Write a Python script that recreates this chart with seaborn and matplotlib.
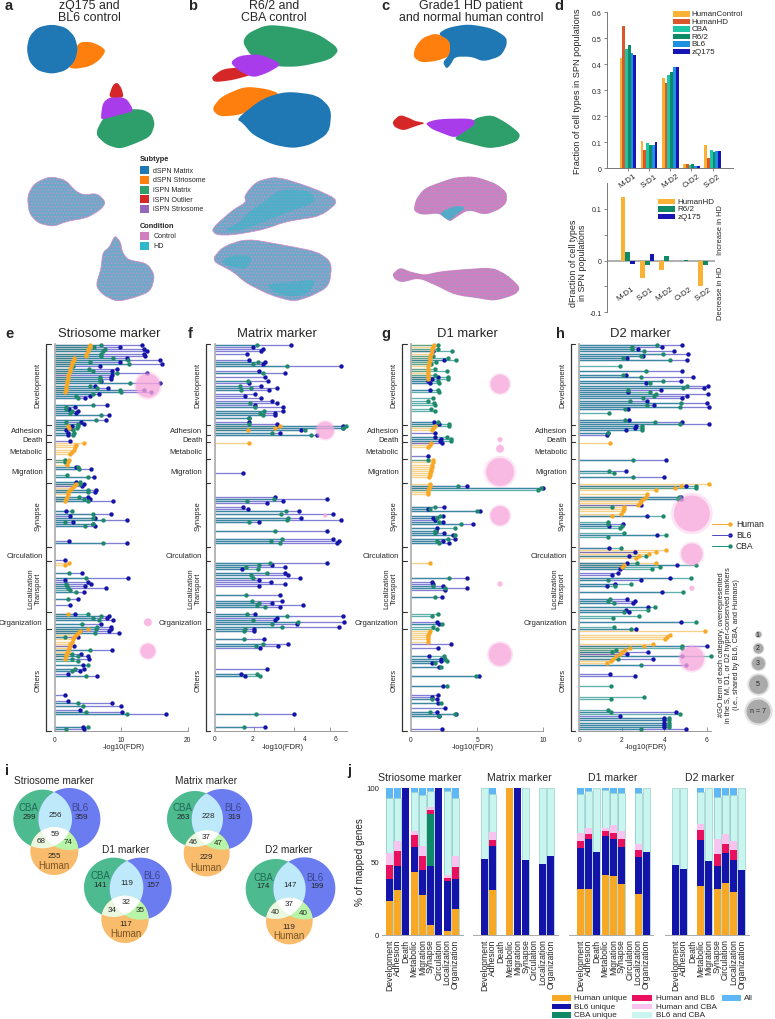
import numpy as np
import pandas as pd
import matplotlib
matplotlib.use('Agg')
import matplotlib.pyplot as plt
from matplotlib.patches import Polygon, Rectangle
import seaborn as sns

sns.set_theme(style='white')
plt.rcParams['font.family'] = ['Liberation Sans', 'DejaVu Sans']
plt.rcParams['hatch.linewidth'] = 0.5

W, H = 775, 1020

# ---------- UMAP outlines, panels a and b
a_orange = [(205,205),(215,180),(235,130),(270,128),(300,140),(318,155),(300,182),(270,202),(225,210)]
a_blue = [(80,150),(88,112),(113,85),(155,76),(197,85),(224,112),(234,150),(224,188),(197,215),(155,225),(113,215),(88,188)]
a_green = [(285,405),(310,355),(350,332),(425,330),(455,345),(465,375),(452,412),(410,432),(360,450),(318,437)]
a_purple = [(302,358),(308,312),(328,295),(378,295),(403,337),(360,347),(310,361)]
a_red = [(325,297),(338,258),(352,250),(365,268),(372,297)]
a_hd_top = [(82,590),(103,553),(150,532),(197,543),(225,575),(250,588),(292,583),(318,610),(302,632),(260,657),(200,667),(160,683),(113,672),(87,642)]
a_hd_bottom = [(287,860),(303,810),(308,760),(328,745),(345,708),(362,730),(367,760),(385,783),(442,793),(465,830),(452,877),(400,897),(350,908),(308,887)]
b_green = [(727,130),(743,103),(800,77),(870,83),(952,103),(1020,150),(992,182),(900,203),(830,203),(758,177)]
b_red = [(634,235),(668,210),(720,205),(763,225),(700,243),(643,250)]
b_purple = [(690,190),(718,170),(780,165),(848,195),(802,222),(760,236),(718,217)]
b_orange = [(635,330),(663,293),(735,262),(802,270),(842,285),(792,317),(720,348),(658,353)]
b_blue = [(709,360),(788,298),(860,277),(952,288),(995,330),(988,402),(932,437),(880,448),(818,437),(758,407),(728,372)]
b_hd_top = [(634,690),(698,633),(738,610),(733,590),(768,548),(830,532),(942,568),(1020,605),(962,652),(860,667),(790,692),(700,708),(648,708)]
b_hd_bottom = [(634,785),(668,743),(740,719),(850,738),(952,758),(996,790),(988,862),(932,892),(880,908),(808,887),(738,852),(698,817)]
b_teal_1 = [(670,695),(720,670),(745,640),(790,610),(840,570),(930,575),(950,610),(860,640),(790,670),(720,695)]
b_teal_2 = [(660,790),(690,770),(760,770),(740,810),(700,805)]
b_teal_3 = [(800,855),(870,850),(950,840),(930,880),(880,895),(820,880)]
# panel c
c_orange = [(115,175),(120,145),(143,116),(185,102),(228,125),(238,165),(190,185),(140,191)]
c_blue = [(188,105),(218,86),(280,75),(352,88),(395,115),(395,140),(377,172),(325,188),(290,173),(240,173),(228,195),(215,210),(203,190),(225,165),(225,125)]
c_red = [(52,368),(75,347),(105,358),(120,366),(153,372),(120,382),(85,395),(58,384)]
c_purple = [(150,372),(190,360),(292,358),(302,375),(270,397),(240,417),(200,402),(170,390)]
c_green = [(233,420),(270,395),(298,358),(350,347),(397,373),(437,405),(427,427),(380,443),(340,448),(290,435)]
c_hd_top = [(115,635),(123,600),(148,568),(195,550),(240,535),(300,532),(362,553),(396,580),(395,612),(372,632),(330,648),(280,632),(240,657),(225,668),(203,652),(190,643),(140,648)]
c_teal = [(195,640),(240,620),(275,625),(240,650),(225,665),(205,655)]
c_hd_bottom = [(52,825),(75,805),(105,818),(150,828),(190,818),(250,812),(352,805),(397,828),(437,865),(422,887),(360,906),(310,898),(240,888),(178,857),(130,837),(80,851),(58,840)]

subtype_labels = ['dSPN Matrix', 'dSPN Striosome', 'iSPN Matrix', 'iSPN Outlier', 'iSPN Striosome']
subtype_colors = ['#1F77B4', '#FF7F0E', '#2E9F6B', '#D62728', '#9467BD']
condition_labels = ['Control', 'HD']
condition_colors = ['#D27FC0', '#2FB8CC']

# ---------- panel d
cell_types = ['M-D1', 'S-D1', 'M-D2', 'O-D2', 'S-D2']
frac_groups = ['HumanControl', 'HumanHD', 'CBA', 'R6/2', 'BL6', 'zQ175']
frac_colors = ['#F9B233', '#D9572B', '#1FC6A6', '#0E8A66', '#1E90E0', '#1616B4']
frac_human_control = [0.425, 0.105, 0.345, 0.015, 0.088]
frac_human_hd = [0.548, 0.070, 0.327, 0.015, 0.038]
frac_cba = [0.457, 0.097, 0.360, 0.012, 0.070]
frac_r62 = [0.474, 0.088, 0.370, 0.016, 0.060]
frac_bl6 = [0.443, 0.088, 0.390, 0.008, 0.065]
frac_zq175 = [0.435, 0.101, 0.390, 0.008, 0.065]
dfrac_groups = ['HumanHD', 'R6/2', 'zQ175']
dfrac_colors = ['#F9B233', '#0E8A66', '#1616B4']
dfrac_human = [0.123, -0.034, -0.018, 0.0, -0.049]
dfrac_r62 = [0.016, -0.008, 0.008, 0.002, -0.009]
dfrac_zq175 = [-0.007, 0.012, 0.0, 0.0, 0.0]

# ---------- lollipops: (GO term row, -log10 FDR)
e_bl6 = [(0,13.1),(1,9.8),(2,13.4),(3,13.9),(4,13.4),(5,13.6),(6,10.8),(7,15.8),(8,9.8),(9,16.2),(10,6.8),(11,9.4),(12,8.6),(13,13.9),
         (14,8.6),(15,8.5),(16,8.5),(17,7.0),(18,15.8),(19,6.0),(20,8.0),(21,13.4),(22,14.5),(23,6.6),(24,5.2),(25,4.5),(28,7.8),(29,3.0),
         (30,2.1),(31,3.4),(32,3.1),(33,8.2),(35,7.7),(36,3.9),(37,4.3),(38,2.5),(39,2.3),(40,1.7),(41,1.9),(42,2.0),(45,2.2),(57,3.2),
         (58,5.5),(62,5.9),(64,3.2),(65,4.3),(66,4.0),(68,6.2),(69,6.0),(71,4.9),(72,5.2),(73,8.8),(78,1.6),(79,8.5),(80,2.2),(81,6.1),
         (82,10.8),(83,2.7),(84,5.7),(85,6.1),(92,2.1),(93,10.8),(101,1.5),(107,4.1),(109,11.0),(110,1.5),(111,5.0),(112,5.5),(113,4.5),
         (114,7.7),(116,4.4),(119,3.5),(122,2.2),(126,3.0),(127,8.2),(128,7.8),(129,8.7),(131,7.0),(132,8.5),(133,8.4),(134,8.2),(135,9.6),
         (137,3.5),(141,2.8),(143,8.6),(145,3.9),(146,4.9),(147,5.1),(150,4.2),(152,4.3),(153,3.8),(154,1.9),(155,6.3),(164,1.5),(167,1.9),
         (168,8.6),(169,10.0),(171,3.8),(172,10.1),(173,16.7),(179,4.2),(180,4.4)]
e_cba = [(0,6.9),(1,5.9),(2,7.6),(3,7.3),(4,7.0),(5,6.9),(6,8.7),(7,11.0),(8,5.3),(9,11.2),(10,2.7),(11,5.1),(12,5.8),(13,9.4),(15,6.8),
         (16,6.8),(17,6.8),(18,11.3),(19,5.2),(20,6.4),(21,9.8),(22,10.0),(23,5.7),(24,3.2),(25,3.5),(28,5.7),(29,1.6),(30,1.7),(31,2.6),
         (32,2.3),(33,6.9),(35,6.2),(36,1.6),(37,3.4),(38,3.4),(39,3.3),(40,2.7),(41,2.8),(42,2.7),(54,1.5),(55,1.5),(57,3.5),(58,3.6),
         (61,1.8),(62,5.0),(64,3.7),(65,3.8),(68,5.0),(69,4.9),(71,3.6),(72,4.4),(73,5.0),(78,2.5),(79,5.7),(81,5.7),(82,7.3),(83,1.5),
         (84,5.7),(85,4.5),(93,7.3),(107,2.1),(109,4.7),(112,1.6),(113,1.8),(114,2.0),(115,2.3),(116,3.1),(119,2.0),(126,4.9),(127,6.9),
         (128,5.8),(129,6.7),(131,4.1),(132,6.4),(133,6.2),(134,3.8),(135,6.0),(137,1.5),(143,5.2),(145,2.5),(146,3.4),(147,2.5),(148,3.5),
         (150,4.9),(152,3.0),(153,2.5),(155,4.6),(168,3.5),(169,4.2),(172,4.6),(173,10.9),(179,4.9),(180,1.6)]
e_human = [(0,5.3),(1,5.2),(2,5.0),(3,4.9),(4,4.7),(5,4.6),(6,2.9),(7,2.8),(8,2.6),(9,2.5),(10,2.4),(11,2.3),(12,2.2),(13,2.1),(14,2.0),(15,2.0),
           (16,1.9),(17,1.8),(18,1.8),(19,1.7),(20,1.6),(21,1.6),(22,1.5),(38,2.0),(39,2.1),(46,4.4),(47,3.2),(48,3.0),(49,2.8),(50,2.6),(51,2.3),
           (54,2.1),(55,1.9),(56,1.8),(65,3.1),(66,2.9),(67,2.5),(68,2.2),(69,2.0),(70,1.9),(71,1.8),(72,1.6),(73,1.5),(102,2.1),(103,1.5),(126,1.9),
           (133,5.0),(134,3.7),(135,3.4),(136,3.1),(137,2.9),(138,2.7),(139,2.5),(140,2.3),(141,2.2),(142,2.1),(143,2.0),(144,1.9),(145,1.7),(146,1.6),(147,1.5)]

f_bl6 = [(0,3.8),(1,1.9),(2,2.4),(3,2.3),(4,1.6),(7,1.7),(8,2.5),(9,2.4),(10,6.3),(12,2.2),(13,3.5),(15,2.5),(17,2.65),(18,1.7),(19,2.3),(20,3.1),
         (21,2.7),(23,2.0),(24,1.5),(25,2.3),(26,2.85),(27,3.1),(28,2.0),(29,3.4),(31,3.4),(32,3.0),(33,3.0),(34,1.7),(36,1.7),(37,3.1),(38,6.4),
         (39,6.4),(40,4.3),(41,3.25),(42,5.1),(60,1.4),(71,3.0),(72,5.6),(73,3.4),(74,2.6),(76,1.4),(77,1.65),(78,4.2),(79,5.9),(81,4.3),(82,6.3),
         (83,2.2),(87,5.6),(91,5.9),(92,6.2),(93,6.1),(102,5.6),(103,2.85),(104,3.5),(105,1.35),(107,3.5),(108,3.65),(109,4.25),(110,2.2),(111,2.8),
         (112,3.5),(113,2.2),(117,3.25),(120,3.35),(121,2.85),(122,4.4),(123,3.25),(126,2.0),(127,6.4),(128,3.1),(129,3.0),(130,6.45),(131,4.1),
         (132,6.2),(133,1.95),(134,1.95),(138,2.45),(140,3.65),(141,3.15),(142,2.25),(152,2.6),(154,1.3),(155,1.5),(173,3.95),(179,2.5)]
f_cba = [(0,2.1),(8,2.15),(9,1.9),(10,3.6),(13,2.4),(17,1.65),(19,1.25),(20,1.8),(21,1.3),(27,1.75),(29,2.0),(31,2.45),(32,2.25),(33,2.4),(34,1.7),
         (37,1.7),(38,6.55),(39,6.4),(40,4.5),(41,2.85),(42,4.8),(72,2.95),(73,1.6),(78,3.55),(79,3.3),(81,3.65),(82,3.6),(83,1.7),(87,3.0),(91,3.35),
         (92,2.8),(93,3.25),(102,2.75),(103,2.2),(104,1.55),(105,2.15),(107,2.6),(108,1.8),(109,1.9),(117,1.55),(120,1.85),(121,2.2),(122,2.1),
         (123,2.5),(126,1.6),(127,3.6),(129,1.9),(130,4.15),(131,2.85),(132,3.35),(133,1.5),(134,1.45),(138,1.45),(140,2.4),(141,2.05),(154,2.1),
         (155,2.25),(173,2.05),(179,1.45)]
f_human = [(38,3.25),(39,3.0),(40,1.65),(46,1.7)]

g_bl6 = [(3,1.7),(7,2.5),(15,2.05),(16,1.6),(17,1.3),(18,1.45),(21,1.4),(36,1.75),(37,2.15),(41,1.8),(43,1.85),(44,2.25),(45,2.2),(46,2.35),(52,1.3),
         (66,4.2),(67,10.0),(76,2.5),(77,1.3),(78,5.25),(80,2.45),(81,1.7),(82,1.8),(83,2.45),(84,4.7),(86,2.0),(87,1.9),(88,2.5),(89,3.2),(91,3.3),
         (92,2.45),(93,2.9),(109,4.25),(111,1.6),(112,1.7),(113,2.45),(114,4.25),(115,2.55),(118,2.35),(130,2.0),(131,2.1),(140,3.0),(142,2.05),
         (146,1.35),(147,2.3),(148,2.3),(149,1.55),(151,2.1),(155,5.15),(160,2.45),(164,2.05),(165,1.6),(166,1.95),(168,2.05),(170,2.6),(172,1.95),
         (173,3.4),(174,2.1),(180,2.35)]
g_cba = [(0,2.05),(2,2.05),(3,3.1),(5,1.7),(6,2.8),(7,3.4),(8,1.9),(9,1.5),(11,1.85),(12,2.75),(14,1.85),(15,2.8),(16,2.8),(17,2.05),(18,2.15),(21,2.05),
         (22,2.15),(25,1.7),(26,1.3),(27,1.75),(28,1.85),(30,1.5),(31,1.85),(36,2.05),(37,2.85),(38,2.9),(43,2.7),(44,3.05),(45,3.0),(54,1.3),(66,3.55),
         (67,9.8),(68,9.6),(76,1.85),(77,1.45),(78,5.0),(80,2.2),(81,2.0),(83,2.1),(84,3.8),(86,3.3),(87,1.8),(88,1.85),(89,3.3),(91,2.8),(92,1.95),
         (93,2.15),(109,2.85),(113,1.7),(114,2.55),(118,1.85),(126,2.05),(127,1.6),(131,2.35),(132,1.7),(133,1.95),(146,2.5),(147,2.55),(148,2.75),
         (149,1.85),(151,2.3),(155,4.95),(160,2.75),(166,1.6),(168,2.25),(172,1.4),(173,3.35),(174,2.15)]
g_human = [(0,1.75),(1,1.7),(2,1.6),(3,1.55),(4,1.5),(5,1.45),(6,1.4),(7,1.4),(8,1.35),(9,1.35),(10,1.3),(11,1.3),(12,1.3),(13,1.3),(14,1.25),(15,1.25),
           (16,1.25),(38,1.8),(39,1.7),(40,1.6),(46,1.5),(47,1.4),(48,1.25),(54,1.65),(55,1.65),(56,1.6),(57,1.55),(58,1.5),(59,1.5),(60,1.45),(61,1.4),
           (62,1.35),(65,1.45),(66,1.4),(67,1.35),(68,1.3),(69,1.3),(70,1.3),(102,1.4),(134,1.4),(135,1.35),(136,1.3),(137,1.3),(138,1.25),(139,1.25)]

h_bl6 = [(0,4.85),(1,3.9),(2,2.75),(3,4.45),(4,5.1),(5,3.0),(6,2.25),(7,5.05),(12,4.85),(14,2.2),(15,5.35),(17,4.8),(18,3.15),(19,6.05),(20,5.85),(21,3.85),
         (22,2.3),(23,6.05),(24,5.05),(25,4.85),(26,3.2),(27,6.0),(28,3.5),(29,6.1),(30,2.3),(35,2.35),(36,4.85),(37,6.1),(38,2.65),(39,2.6),(40,2.2),
         (41,1.35),(42,1.3),(54,4.1),(59,2.2),(62,4.0),(66,5.0),(71,4.8),(72,4.8),(75,2.9),(80,3.2),(84,2.05),(85,1.4),(89,3.65),(95,1.4),(97,2.6),
         (99,2.35),(102,2.25),(103,4.6),(104,2.0),(105,1.9),(107,1.8),(108,1.55),(109,4.25),(110,2.9),(112,1.7),(113,1.3),(116,3.9),(119,2.25),(120,2.6),
         (121,2.55),(123,3.25),(124,2.2),(125,2.35),(130,4.8),(133,2.65),(141,6.0),(144,3.25),(145,2.25),(146,4.85),(147,3.45),(150,5.0),(154,1.45),
         (155,2.6),(172,4.55),(174,1.9),(175,4.0),(176,4.0),(177,4.0),(178,4.0),(179,4.0),(180,5.0)]
h_cba = [(0,3.65),(1,2.5),(2,2.5),(3,3.05),(4,3.95),(5,2.9),(6,2.05),(7,4.25),(10,1.9),(12,3.15),(14,2.05),(15,2.9),(17,3.95),(18,3.35),(19,5.05),(20,4.9),(21,2.3),
         (22,3.35),(23,3.6),(24,3.5),(25,3.0),(26,2.4),(27,4.8),(28,3.2),(29,4.75),(30,2.15),(32,1.4),(35,2.15),(36,3.55),(37,4.75),(38,2.95),(39,2.95),(40,2.95),
         (41,1.35),(54,2.55),(59,1.4),(60,1.65),(62,2.55),(66,5.5),(67,5.5),(71,4.7),(72,4.65),(76,1.55),(80,3.95),(83,1.35),(84,1.35),(85,2.0),(86,1.9),(88,2.1),
         (89,4.1),(90,1.35),(95,1.95),(99,3.15),(102,2.7),(103,5.5),(104,3.8),(105,3.4),(109,5.25),(110,1.35),(112,2.45),(113,1.7),(116,4.9),(119,1.45),(120,1.35),
         (121,1.65),(123,3.55),(124,3.25),(125,2.1),(127,2.8),(128,1.6),(130,5.5),(132,1.65),(133,2.45),(141,4.85),(142,4.85),(143,1.75),(144,1.55),(146,6.2),
         (147,1.8),(150,2.9),(160,1.5),(165,3.05),(166,1.5),(171,1.35),(172,1.5),(173,4.75),(175,4.2),(176,4.2),(177,4.2),(178,4.2),(179,4.2),(180,2.9)]
h_human = [(46,1.45),(65,6.1),(66,4.8),(67,4.5),(68,3.6),(70,3.2),(71,3.15),(72,3.0),(73,2.9),(74,2.85),(75,2.75),(76,2.1),(77,2.1),(78,2.05),(79,1.95),(80,1.55),
           (96,4.1),(97,3.6),(98,3.3),(99,2.8),(100,2.65),(102,3.6),(103,2.1),(104,2.0),(134,5.9),(136,4.25),(137,4.15),(138,4.05),(140,3.45),(141,3.05),(142,2.4),
           (143,2.15),(144,2.0),(145,1.9),(146,1.75),(147,1.6),(148,1.5),(149,1.3)]

# bubbles: (row, number of GO terms)
e_bubbles = [(19,6.9),(130,1.3),(143.5,3.5)]
f_bubbles = [(40,4.4),(80,0.5)]
g_bubbles = [(18.3,4.9),(44.3,0.7),(48.6,1.3),(59.5,8.4),(80,5),(112,0.7),(145,6.3)]
h_bubbles = [(79,12.2),(98,5.8),(114,0.7),(147,6.9)]
size_key = [1, 2, 3, 5, 7]

go_boundaries = [-0.5, 37.5, 42.3, 45.6, 53.6, 64.7, 94.9, 101.1, 125.2, 133.3, 180.8]
go_labels = ['Development', 'Adhesion', 'Death', 'Metabolic', 'Migration', 'Synapse', 'Circulation', 'Localization\nTransport', 'Organization', 'Others']
go_label_rows = [18.6, 40.2, 44.4, 49.7, 59.4, 79.5, 98.6, 113.6, 130, 156.7]
go_rotated = ['Development', 'Synapse', 'Localization\nTransport', 'Others']

# ---------- panel i: counts of the venn regions
venn_titles = ['Striosome marker', 'Matrix marker', 'D1 marker', 'D2 marker']
venn_cba_only = [299, 263, 141, 174]
venn_bl6_only = [359, 319, 157, 199]
venn_human_only = [255, 229, 117, 119]
venn_cba_bl6 = [256, 228, 119, 147]
venn_all = [59, 37, 32, 37]
venn_cba_human = [68, 46, 34, 40]
venn_bl6_human = [74, 47, 35, 40]

# ---------- panel j: shares in stack order
mapped_series = ['Human unique', 'BL6 unique', 'CBA unique', 'Human and BL6', 'Human and CBA', 'BL6 and CBA', 'All']
mapped_colors = ['#F9A825', '#1414AA', '#0E8A66', '#E8105F', '#F9C3F0', '#C9F5EF', '#5DB8F5']
mapped_categories = ['Development', 'Adhesion', 'Death', 'Metabolic', 'Migration', 'Synapse', 'Circulation', 'Localization', 'Organization']
j_striosome = [[23,15,0,9.5,8,37.5,7],[30.5,16.5,0,10,7,29.5,6.5],[0,100,0,0,0,0,0],[43,17,0,8,3,26.5,2.5],[27,17,0,10,6.5,34.5,5],
               [7,40,35,3,2,11,2],[0,100,0,0,0,0,0],[3,34,0,2,2,57,2],[18,20,0,8,7.5,40,6.5]]
j_matrix = [[0,51.5,0,0,0,48.5,0],[30.5,30,0,4,5.5,26,4],[0,0,0,0,0,0,0],[100,0,0,0,0,0,0],[0,100,0,0,0,0,0],
            [0,51,0,0,0,49,0],[0,0,0,0,0,0,0],[0,48,0,0,0,52,0],[0,53.5,0,0,0,46.5,0]]
j_d1 = [[31,28,0,5,5.5,26.5,4],[31.5,33.5,0,3.5,4,25.5,2],[0,56.5,0,0,0,43.5,0],[41,26.5,0,3,2.5,25.5,1.5],[40,25,0,4.5,5,22,3.5],
        [35,25,0,5.5,5,26,3.5],[0,0,0,0,0,0,0],[28,25,0,4.5,4.5,34.5,3.5],[0,56.5,0,0,0,43.5,0]]
j_d2 = [[0,47.5,0,0,0,52.5,0],[0,45,0,0,0,55,0],[0,0,0,0,0,0,0],[33,31.5,0,7,4,21.5,3],[0,50.5,0,0,0,49.5,0],
        [31,16,0,8,10.5,28.5,6],[35.5,20,0,6.5,6.5,26.5,5],[29,22,0,6.5,6.5,31,5],[0,44.5,0,0,0,55.5,0]]

HUMAN_LINE, HUMAN_DOT = '#F4BE55', '#F9A825'
BL6_LINE, BL6_DOT = '#4F47C4', '#1414A8'
CBA_LINE, CBA_DOT = '#1C8F8A', '#1F8A6B'
BUBBLE = '#F7A8DC'

fig = plt.figure(figsize=(W / 100, H / 100), dpi=100)


def px_axes(x0, y0, x1, y1, **kw):
    ax = fig.add_axes([x0 / W, 1 - y1 / H, (x1 - x0) / W, (y1 - y0) / H], **kw)
    ax.patch.set_alpha(0)
    return ax


ov = px_axes(0, 0, W, H, zorder=20)
ov.set_xlim(0, W)
ov.set_ylim(H, 0)
ov.axis('off')


def label(x, y, s, size=6, ha='center', va='center', **kw):
    ov.text(x, y, s, fontsize=size, ha=ha, va=va, **kw)


def px_size(r):
    return (2 * r * 0.72) ** 2


def bubble_r(n):
    return 3.3 * n ** 0.7


def swatches(x, y0, dy, w, h, names, colors, gap, size):
    for i, (n, c) in enumerate(zip(names, colors)):
        ov.add_patch(Rectangle((x, y0 + i * dy - h / 2), w, h, fc=c, ec='none', lw=0))
        label(x + w + gap, y0 + i * dy, n, size, ha='left')


def rounded(pts, n=2):
    # corner cutting, so the outlines lose their straight edges
    p = np.array(pts, dtype=float)
    for _ in range(n):
        q = np.roll(p, -1, axis=0)
        p = np.c_[0.8 * p + 0.2 * q, 0.2 * p + 0.8 * q].reshape(-1, 2)
    return p


# ---------- umap panels
um = px_axes(0, 0, 400, 340)
um.set_xlim(0, 1200)
um.set_ylim(1020, 0)
um.axis('off')
um2 = px_axes(375, 0, 540, 335)
um2.set_xlim(0, 495)
um2.set_ylim(1005, 0)
um2.axis('off')

for ax_, pts, col in [(um, a_orange, '#FF7F0E'), (um, a_green, '#2E9F6B'), (um, a_red, '#D62728'), (um, a_purple, '#A93CEA'), (um, a_blue, '#1F77B4'),
                      (um, b_green, '#2E9F6B'), (um, b_red, '#D62728'), (um, b_purple, '#A93CEA'), (um, b_orange, '#FF7F0E'), (um, b_blue, '#1F77B4'),
                      (um2, c_orange, '#FF7F0E'), (um2, c_blue, '#1F77B4'), (um2, c_red, '#D62728'), (um2, c_green, '#2E9F6B'), (um2, c_purple, '#A93CEA')]:
    ax_.add_patch(Polygon(rounded(pts), closed=True, fc=col, ec='none', lw=0))

for pts in [a_hd_top, a_hd_bottom, b_hd_top, b_hd_bottom]:
    um.add_patch(Polygon(rounded(pts), closed=True, fc='#6DA9C8', ec='#D88CC6', hatch='.....', lw=0.5))
for pts in [b_teal_1, b_teal_2, b_teal_3]:
    um.add_patch(Polygon(rounded(pts), closed=True, fc='#2FB5C8', ec='none', lw=0, alpha=0.5))
for pts in [c_hd_top, c_hd_bottom]:
    um2.add_patch(Polygon(rounded(pts), closed=True, fc='#D27FC0', ec='#7FA7CC', hatch='.....', lw=0))
um2.add_patch(Polygon(rounded(c_teal), closed=True, fc='#2FB8CC', ec='none', lw=0, alpha=0.75))

label(140, 159.5, 'Subtype', 5.3, ha='left', fontweight='bold')
swatches(140, 171.3, 9.65, 8.7, 8, subtype_labels, subtype_colors, 4.6, 5.1)
label(140, 226, 'Condition', 5.3, ha='left', fontweight='bold')
swatches(140, 237, 9.7, 8.7, 8, condition_labels, condition_colors, 4.6, 5.1)

for x, s in [(89, 'zQ175 and\nBL6 control'), (274, 'R6/2 and\nCBA control'), (471, 'Grade1 HD patient\nand normal human control')]:
    label(x, 12, s, 8.9, linespacing=0.95)
for x, y, s in [(9, 6, 'a'), (192.5, 6, 'b'), (385.5, 6, 'c'), (559, 6, 'd'), (9, 334, 'e'), (190.5, 334, 'f'), (385.5, 334, 'g'), (560, 334, 'h'),
                (7, 771, 'i'), (349.5, 771, 'j')]:
    label(x, y, s, 10.5, fontweight='bold')

# ---------- panel d
d_top = px_axes(606.7, 13.3, 733.3, 169)
frac = pd.DataFrame({'type': cell_types * 6,
                     'group': np.repeat(frac_groups, 5),
                     'value': frac_human_control + frac_human_hd + frac_cba + frac_r62 + frac_bl6 + frac_zq175})
sns.barplot(data=frac, x='type', y='value', hue='group', palette=frac_colors, saturation=1, width=0.79, legend=False,
            edgecolor='none', linewidth=0, ax=d_top)
d_top.set_xlim(-1.0, 4.98)
d_top.set_ylim(0, 0.6)
d_top.set_yticks(np.arange(0, 0.61, 0.1))
d_top.set_yticklabels(['0', '0.1', '0.2', '0.3', '0.4', '0.5', '0.6'])
d_top.set_xlabel('')
d_top.set_ylabel('')
d_top.tick_params(axis='y', labelsize=5, length=2, width=0.5, pad=1.5, left=True, color='#555555')
d_top.set_xticks(range(5))
d_top.set_xticklabels(cell_types, rotation=35, ha='center', fontsize=5.8)
d_top.tick_params(axis='x', length=2, width=0.5, pad=1, bottom=True, color='#555555')
sns.despine(ax=d_top)
for side in ['left', 'bottom']:
    d_top.spines[side].set_color('#777777')
    d_top.spines[side].set_linewidth(0.7)
swatches(672.7, 15, 7.45, 17.3, 5.5, frac_groups, frac_colors, 1.7, 5.8)
ov.text(577, 91, 'Fraction of cell types in SPN populations', fontsize=6.6, rotation=90, ha='center', va='center')

d_bot = px_axes(606.7, 184, 715, 313.3)
dfrac = pd.DataFrame({'type': cell_types * 3,
                      'group': np.repeat(dfrac_groups, 5),
                      'value': dfrac_human + dfrac_r62 + dfrac_zq175})
sns.barplot(data=dfrac, x='type', y='value', hue='group', palette=dfrac_colors, saturation=1, width=0.75, legend=False,
            edgecolor='none', linewidth=0, ax=d_bot)
d_bot.set_xlim(-1.09, 4.5)
d_bot.set_ylim(-0.1, 0.15)
d_bot.set_yticks([-0.1, -0.05, 0, 0.05, 0.1])
d_bot.set_yticklabels(['-0.1', '', '0', '', '0.1'])
d_bot.axhline(0, color='#999999', lw=1.1, zorder=0)
d_bot.set_xlabel('')
d_bot.set_ylabel('')
d_bot.set_xticks([])
d_bot.tick_params(axis='y', labelsize=5, length=2, width=0.5, pad=1.5, left=True, color='#555555')
sns.despine(ax=d_bot, bottom=True)
d_bot.spines['left'].set_color('#777777')
d_bot.spines['left'].set_linewidth(0.7)
for pos, name in zip([0, 1, 2, 3, 4], cell_types):
    d_bot.annotate(name, (pos - 0.12, -0.063), fontsize=5.8, rotation=35, ha='center', va='center', annotation_clip=False)
swatches(657.7, 202.3, 7.5, 17.3, 5.5, dfrac_groups, dfrac_colors, 2.7, 5.8)
ov.text(578, 263, 'dFraction of cell types\nin SPN populations', fontsize=6.4, rotation=90, ha='center', va='center', linespacing=1.0)
ov.text(721, 230, 'Increase in HD', fontsize=5.4, rotation=90, ha='center', va='center')
ov.text(721, 293, 'Decrease in HD', fontsize=5.4, rotation=90, ha='center', va='center')


# ---------- panels e-h
def lollipop(ax, bl6, cba, human, bubbles, bubble_x, xmax, title, title_x):
    for pts, line in [(human, HUMAN_LINE), (bl6, BL6_LINE), (cba, CBA_LINE)]:
        d = pd.DataFrame(pts, columns=['row', 'fdr'])
        ax.hlines(d['row'], 0, d['fdr'], color=line, lw=0.95, alpha=0.7, zorder=1)
    for pts, dot, zo in [(bl6, BL6_DOT, 3), (cba, CBA_DOT, 3.2), (human, HUMAN_DOT, 3.4)]:
        d = pd.DataFrame(pts, columns=['row', 'fdr'])
        sns.scatterplot(data=d, x='fdr', y='row', color=dot, s=10, linewidth=0, clip_on=False, zorder=zo, ax=ax)
    b = pd.DataFrame(bubbles, columns=['row', 'n'])
    b['x'] = bubble_x
    sizes = px_size(bubble_r(b['n'].to_numpy()))
    ax.scatter(b['x'], b['row'], s=sizes * 1.2, color=BUBBLE, alpha=0.3, linewidth=0, zorder=4, clip_on=False)
    ax.scatter(b['x'], b['row'], s=sizes * 0.9, color=BUBBLE, alpha=0.7, linewidth=0, zorder=4, clip_on=False)
    ax.set_xlim(0, xmax)
    ax.set_ylim(180.8, -0.5)
    ax.set_xlabel('')
    ax.set_ylabel('')
    ax.set_yticks([])
    sns.despine(ax=ax)
    ax.spines['left'].set_color('#AAAAAA')
    ax.spines['left'].set_linewidth(1.2)
    ax.spines['bottom'].set_color('#999999')
    ax.spines['bottom'].set_linewidth(0.7)
    ax.tick_params(axis='x', direction='in', length=3, width=0.6, color='#888888', labelsize=4.8, pad=4, bottom=True)
    tr = ax.get_yaxis_transform()
    ax.plot([-0.066, -0.066], [go_boundaries[0], go_boundaries[-1]], transform=tr, color='#333333', lw=0.9, clip_on=False)
    for r in go_boundaries:
        ax.plot([-0.066, -0.033], [r, r], transform=tr, color='#333333', lw=0.8, clip_on=False)
    for name, r in zip(go_labels, go_label_rows):
        if name in go_rotated:
            ax.text(-0.1, r, name, transform=tr, rotation=90, fontsize=5.5, ha='right', va='center', ma='center', linespacing=1.1)
        else:
            ax.text(-0.093, r, name, transform=tr, fontsize=5.5, ha='right', va='center')
    label(title_x, 334, title, 9.4)


ax_e = px_axes(55, 345, 187.7, 731.7)
lollipop(ax_e, e_bl6, e_cba, e_human, e_bubbles, 14, 20, 'Striosome marker', 109)
ax_e.set_xticks([0, 10, 20])
ax_e.set_xticklabels(['0', '10', '20'])
label(123.3, 748, '-log10(FDR)', 5.5)

ax_f = px_axes(214.7, 345, 346.7, 731.7)
lollipop(ax_f, f_bl6, f_cba, f_human, f_bubbles, 5.5, 6.57, 'Matrix marker', 276.7)
ax_f.set_xticks([0, 1.94, 3.95, 5.74])
ax_f.set_xticklabels([])
for x, s in [(214.5, '0'), (253, '2'), (304.7, '4'), (335, '6')]:
    label(x, 740, s, 4.8)
label(283, 748, '-log10(FDR)', 5.5)

ax_g = px_axes(411, 345, 543.3, 731.7)
lollipop(ax_g, g_bl6, g_cba, g_human, g_bubbles, 6.73, 10, 'D1 marker', 467)
ax_g.set_xticks([0, 5, 10])
ax_g.set_xticklabels(['0', '5', '10'])
label(473, 748, '-log10(FDR)', 5.5)

ax_h = px_axes(579.3, 345, 711, 731.7)
lollipop(ax_h, h_bl6, h_cba, h_human, h_bubbles, 5.3, 6.2, 'D2 marker', 640)
ax_h.set_xticks([0, 2, 4, 6])
ax_h.set_xticklabels(['0', '2', '4', '6'])
label(645.7, 748, '-log10(FDR)', 5.5)

for y, name, line, dot in [(525, 'Human', HUMAN_DOT, HUMAN_DOT), (536, 'BL6', BL6_LINE, BL6_DOT), (547, 'CBA', CBA_LINE, CBA_DOT)]:
    ov.plot([712, 730], [y, y], color=line, lw=0.7)
    ov.scatter([730], [y], color=dot, s=10, linewidth=0)
    label(736, y, name, 6.2, ha='left')

ov.text(729, 645, '#GO term of each category, overrepresented\nin the S, M, D1, or D2 hyper-conserved markers\n(i.e., shared by BL6, CBA, and Humans)',
        fontsize=5.3, rotation=90, ha='center', va='center', linespacing=1.15)
for y, n, t in zip([635.3, 649, 664, 685, 712], size_key, ['1', '2', '3', '5', 'n = 7']):
    ov.scatter([757.7], [y], s=px_size(bubble_r(n)) * 1.2, color='#999999', alpha=0.3, linewidth=0)
    ov.scatter([757.7], [y], s=px_size(bubble_r(n)) * 0.85, color='#999999', alpha=0.75, linewidth=0)
    label(757.7, y, t, 5)


# ---------- panel i
vn = px_axes(0, 740, 350, 1020)
vn.set_xlim(0, 1050)
vn.set_ylim(840, 0)
vn.axis('off')
venn_circles = [[(128, 240, 88), (208, 240, 93), (163, 336, 72)],
                [(585, 240, 84), (666, 241, 91), (620, 343, 69)],
                [(341, 445, 89), (422, 449, 93), (375, 541, 71)],
                [(827, 450, 90), (913, 448, 93), (868, 546, 70)]]
venn_title_xy = [(163, 124), (619, 124), (376, 331), (867, 331)]
venn_text_xy = [dict(cba=(86, 205), cba_n=(88, 233), bl6=(240, 205), bl6_n=(245, 233), cb=(165, 228), all=(164, 285), ch=(123, 305), bh=(204, 308), h_n=(162, 350), h=(162, 379)),
                dict(cba=(547, 205), cba_n=(549, 233), bl6=(699, 205), bl6_n=(702, 233), cb=(625, 231), all=(619, 292), ch=(581, 309), bh=(655, 312), h_n=(619, 354), h=(619, 383)),
                dict(cba=(301, 408), cba_n=(301, 436), bl6=(456, 408), bl6_n=(460, 436), cb=(380, 431), all=(379, 488), ch=(337, 511), bh=(421, 513), h_n=(377, 555), h=(377, 583)),
                dict(cba=(791, 413), cba_n=(789, 441), bl6=(945, 413), bl6_n=(952, 441), cb=(869, 436), all=(868, 495), ch=(827, 518), bh=(910, 520), h_n=(867, 564), h=(867, 588))]


def overlap(circles):
    # region shared by convex circles, as one polygon
    t = np.linspace(0, 2 * np.pi, 361)
    pts = []
    for i, (cx, cy, r) in enumerate(circles):
        x, y = cx + r * np.cos(t), cy + r * np.sin(t)
        keep = np.ones_like(x, dtype=bool)
        for j, (ox, oy, or_) in enumerate(circles):
            if i != j:
                keep &= (x - ox) ** 2 + (y - oy) ** 2 <= or_ ** 2
        pts.append(np.c_[x[keep], y[keep]])
    pts = np.vstack(pts)
    c = pts.mean(axis=0)
    return pts[np.argsort(np.arctan2(pts[:, 1] - c[1], pts[:, 0] - c[0]))]


for k in range(4):
    cba, bl6, hum = venn_circles[k]
    for circ, col in [(cba, '#4DBB8F'), (bl6, '#6B7CF0'), (hum, '#F9BC6C')]:
        vn.add_patch(Polygon(overlap([circ]), closed=True, fc=col, ec='none', lw=0))
    for pair, col in [((cba, bl6), '#BDE9FB'), ((cba, hum), '#EAF8DF'), ((bl6, hum), '#B8F5A8'), ((cba, bl6, hum), 'white')]:
        vn.add_patch(Polygon(overlap(list(pair)), closed=True, fc=col, ec='none', lw=0))
    xy = venn_text_xy[k]
    tx, ty = venn_title_xy[k]
    vn.text(tx, ty, venn_titles[k], fontsize=7.3, ha='center', va='center')
    vn.text(*xy['cba'], 'CBA', fontsize=7, color='#1E6A55', ha='center', va='center')
    vn.text(*xy['bl6'], 'BL6', fontsize=7, color='#3C4690', ha='center', va='center')
    vn.text(*xy['h'], 'Human', fontsize=7, color='#7A5426', ha='center', va='center')
    for key, vals in [('cba_n', venn_cba_only), ('bl6_n', venn_bl6_only), ('cb', venn_cba_bl6), ('all', venn_all),
                      ('ch', venn_cba_human), ('bh', venn_bl6_human), ('h_n', venn_human_only)]:
        vn.text(*xy[key], str(vals[k]), fontsize=5.8, ha='center', va='center')


# ---------- panel j
def stacked(ax, table, title, title_x):
    table = np.array(table, dtype=float)
    tops = table.cumsum(axis=1)
    for i in range(6, -1, -1):
        heights = np.where(table[:, i] > 0, tops[:, i], 0)
        ec = '#9CCFCC' if i == 5 else 'none'
        sns.barplot(x=mapped_categories, y=heights, color=mapped_colors[i], saturation=1, width=0.85, edgecolor=ec,
                    linewidth=0.5 if i == 5 else 0, ax=ax)
    ax.set_ylim(0, 100)
    ax.set_ylabel('')
    ax.set_yticks([])
    ax.set_xticks(range(9))
    ax.set_xticklabels(mapped_categories, rotation=90, fontsize=6.2)
    ax.tick_params(axis='x', length=0, pad=2.5)
    sns.despine(ax=ax, left=True)
    ax.spines['bottom'].set_color('#AAAAAA')
    ax.spines['bottom'].set_linewidth(0.7)
    label(title_x, 778.5, title, 7.6)


j1 = px_axes(381.7, 789, 463.3, 936)
stacked(j1, j_striosome, 'Striosome marker', 419.5)
j1.set_xlim(-0.93, 8.97)
j1.set_yticks([0, 50, 100])
j1.set_yticklabels(['0', '50', '100'], fontsize=5.7)
j1.tick_params(axis='y', length=0, pad=2)
label(360, 862, '% of mapped genes', 7.1, rotation=90)
j2 = px_axes(473.3, 789, 558.3, 936)
stacked(j2, j_matrix, 'Matrix marker', 519)
j2.set_xlim(-1.37, 8.93)
j3 = px_axes(569, 789, 653.3, 936)
stacked(j3, j_d1, 'D1 marker', 612.5)
j3.set_xlim(-1.37, 8.85)
j4 = px_axes(665, 789, 749, 936)
stacked(j4, j_d2, 'D2 marker', 709.5)
j4.set_xlim(-1.29, 8.85)

swatches(551.7, 999, 8.35, 19, 5.6, mapped_series[:3], mapped_colors[:3], 3.6, 5.85)
swatches(632.3, 999, 8.35, 19.4, 5.6, mapped_series[3:6], mapped_colors[3:6], 4, 5.85)
swatches(721.7, 999, 8.35, 19.3, 5.6, mapped_series[6:], mapped_colors[6:], 3, 5.85)

fig.savefig('out.png', dpi=100)
